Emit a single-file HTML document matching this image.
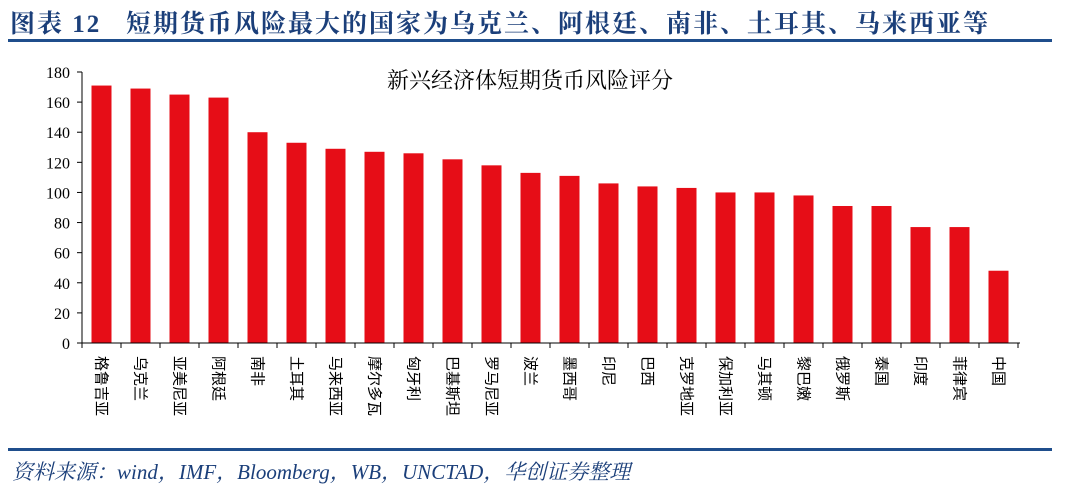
<!DOCTYPE html>
<html><head><meta charset="utf-8">
<style>
body{margin:0;width:1080px;height:492px;background:#fff;overflow:hidden;font-family:"Liberation Serif","Noto Serif CJK SC",serif;}
.title{position:absolute;left:10px;top:4px;font-size:25px;font-weight:bold;color:#1b3f7a;letter-spacing:2px;white-space:nowrap;}
.line{position:absolute;left:8px;width:1044px;background:#1f4e8c;}
.src{position:absolute;left:12px;top:456px;font-size:21px;font-style:italic;color:#1b3f7a;white-space:nowrap;}
</style></head><body>
<div class="title">图表&nbsp;12&nbsp;&nbsp;&nbsp;短期货币风险最大的国家为乌克兰、阿根廷、南非、土耳其、马来西亚等</div>
<div class="line" style="top:39px;height:3px"></div>
<svg id="chart" width="1080" height="492" style="position:absolute;left:0;top:0"></svg>
<div class="line" style="top:448px;height:3px"></div>
<div class="src">资料来源：wind，IMF，Bloomberg，WB，UNCTAD，华创证券整理</div>
<script>
const categories=["格鲁吉亚","乌克兰","亚美尼亚","阿根廷","南非","土耳其","马来西亚","摩尔多瓦","匈牙利","巴基斯坦","罗马尼亚","波兰","墨西哥","印尼","巴西","克罗地亚","保加利亚","马其顿","黎巴嫩","俄罗斯","泰国","印度","菲律宾","中国"];
const values=[171,169,165,163,140,133,129,127,126,122,118,113,111,106,104,103,100,100,98,91,91,77,77,48];
const yTicks=[0,20,40,60,80,100,120,140,160,180];
const NS="http://www.w3.org/2000/svg";
const svg=document.getElementById('chart');
const x0=82,x1=1018,y0=343,y1=72,yMax=180;
const band=(x1-x0)/categories.length;
const y=v=>y0-(v/yMax)*(y0-y1);
const xc=i=>x0+band*(i+0.5);
function mk(t,a){const e=document.createElementNS(NS,t);for(const k in a)e.setAttribute(k,a[k]);svg.appendChild(e);return e;}
const ct=mk('text',{x:530,y:88,'text-anchor':'middle','font-size':22,fill:'#000','font-family':'"Liberation Serif","Noto Serif CJK SC",serif'});
ct.textContent='新兴经济体短期货币风险评分';


const ya=mk('line',{x1:x0,y1:y1,x2:x0,y2:y0,stroke:'#000','stroke-width':1});


yTicks.forEach(v=>{
  mk('line',{x1:x0-5,y1:y(v),x2:x0,y2:y(v),stroke:'#000'});
  const t=mk('text',{x:x0-12,y:y(v)+6,'text-anchor':'end','font-size':16,fill:'#000'});
  t.textContent=v;
  
  
});
values.forEach((v,i)=>{
  const r=mk('rect',{x:xc(i)-10,y:y(v),width:20,height:y0-y(v),fill:'#e60d17'});
  
  
});
const xa=mk('line',{x1:x0,y1:y0,x2:x1+2,y2:y0,stroke:'#000','stroke-width':1});


for(let i=0;i<=categories.length;i++)mk('line',{x1:x0+band*i,y1:y0,x2:x0+band*i,y2:y0+5,stroke:'#000'});
categories.forEach((c,i)=>{
  const t=mk('text',{x:0,y:0,'font-size':15,fill:'#000',transform:`translate(${xc(i)-5},356) rotate(90)`,'font-family':'"Liberation Sans","Noto Sans CJK SC",sans-serif'});
  t.textContent=c;
  
  
});
</script>
</body></html>
